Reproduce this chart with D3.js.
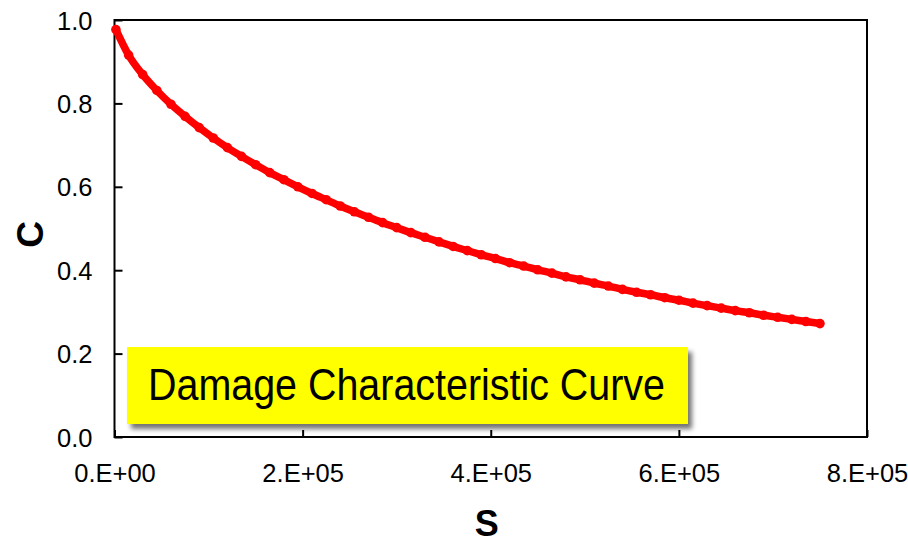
<!DOCTYPE html>
<html>
<head>
<meta charset="utf-8">
<script src="https://cdn.jsdelivr.net/npm/d3@7"></script>
<style>
  html, body { margin: 0; padding: 0; background: #fff; }
  svg { display: block; }
</style>
</head>
<body>
<svg id="chart" width="908" height="543"></svg>
<script>
// Damage parameter S and pseudo-stiffness C along the fitted curve
const sValues = [
  1500, 15000, 30000, 45000, 60000, 75000, 90000, 105000, 120000, 135000,
  150000, 165000, 180000, 195000, 210000, 225000, 240000, 255000, 270000, 285000,
  300000, 315000, 330000, 345000, 360000, 375000, 390000, 405000, 420000, 435000,
  450000, 465000, 480000, 495000, 510000, 525000, 540000, 555000, 570000, 585000,
  600000, 615000, 630000, 645000, 660000, 675000, 690000, 705000, 720000, 735000,
  750000
];
const cValues = [
  0.977, 0.916, 0.869, 0.831, 0.798, 0.769, 0.742, 0.717, 0.694, 0.673,
  0.653, 0.634, 0.617, 0.600, 0.584, 0.569, 0.554, 0.540, 0.527, 0.514,
  0.502, 0.490, 0.479, 0.468, 0.457, 0.447, 0.437, 0.428, 0.418, 0.410,
  0.401, 0.393, 0.384, 0.377, 0.369, 0.362, 0.354, 0.347, 0.341, 0.334,
  0.328, 0.321, 0.315, 0.309, 0.303, 0.298, 0.292, 0.287, 0.282, 0.277,
  0.272
];
const xTicks = [0, 200000, 400000, 600000, 800000];
const yTicks = [0, 0.2, 0.4, 0.6, 0.8, 1.0];
const xTitle = "S";
const yTitle = "C";
const noteText = "Damage Characteristic Curve";

const points = sValues.map((s, i) => ({ s, c: cValues[i] }));

const svg = d3.select("#chart");
const plot = { left: 114.5, right: 867, top: 20, bottom: 437 };

const x = d3.scaleLinear().domain([0, 800000]).range([plot.left, plot.right]);
const y = d3.scaleLinear().domain([0, 1]).range([plot.bottom, plot.top]);

// Excel-style scientific labels: 2.E+05
const sciFormat = v => {
  if (v === 0) return "0.E+00";
  const e = Math.floor(Math.log10(v));
  const m = v / Math.pow(10, e);
  return m + ".E" + (e >= 0 ? "+" : "-") + String(Math.abs(e)).padStart(2, "0");
};

const labelFont = "'Liberation Sans', Arial, sans-serif";

// plot frame
svg.append("rect")
  .attr("x", plot.left).attr("y", plot.top)
  .attr("width", plot.right - plot.left).attr("height", plot.bottom - plot.top)
  .attr("fill", "none").attr("stroke", "#000").attr("stroke-width", 2);

// x axis with inward ticks
const xAxis = svg.append("g")
  .attr("transform", `translate(0,${plot.bottom})`)
  .call(d3.axisBottom(x).tickValues(xTicks).tickFormat(sciFormat)
    .tickSizeInner(-7).tickSizeOuter(0));
xAxis.select(".domain").remove();
xAxis.selectAll(".tick line").attr("stroke", "#000").attr("stroke-width", 2);
xAxis.selectAll(".tick text")
  .attr("y", 45).attr("dy", 0)
  .attr("font-family", labelFont).attr("font-size", 25.5).attr("fill", "#000");

// y axis with inward ticks
const yAxis = svg.append("g")
  .attr("transform", `translate(${plot.left},0)`)
  .call(d3.axisLeft(y).tickValues(yTicks).tickFormat(d3.format(".1f"))
    .tickSizeInner(-8).tickSizeOuter(0));
yAxis.select(".domain").remove();
yAxis.selectAll(".tick line").attr("stroke", "#000").attr("stroke-width", 2);
yAxis.selectAll(".tick text")
  .attr("x", -22).attr("dy", "0.36em")
  .attr("font-family", labelFont).attr("font-size", 25.5).attr("fill", "#000");

// axis titles
svg.append("text")
  .attr("x", (plot.left + plot.right) / 2 - 4).attr("y", 536)
  .attr("text-anchor", "middle")
  .attr("font-family", labelFont).attr("font-weight", "bold").attr("font-size", 36)
  .text(xTitle);
svg.append("text")
  .attr("transform", `translate(43,${(plot.top + plot.bottom) / 2 + 6}) rotate(-90)`)
  .attr("text-anchor", "middle")
  .attr("font-family", labelFont).attr("font-weight", "bold").attr("font-size", 37)
  .text(yTitle);

// damage curve: thick line plus circle markers
const line = d3.line().x(d => x(d.s)).y(d => y(d.c)).curve(d3.curveMonotoneX);
svg.append("path")
  .datum(points)
  .attr("d", line)
  .attr("fill", "none").attr("stroke", "#ff0000")
  .attr("stroke-width", 7.5).attr("stroke-linecap", "round").attr("stroke-linejoin", "round");
svg.append("g").selectAll("circle")
  .data(points)
  .join("circle")
  .attr("cx", d => x(d.s)).attr("cy", d => y(d.c))
  .attr("r", 4.8).attr("fill", "#ff0000");

// yellow note box with soft drop shadow
const defs = svg.append("defs");
const f = defs.append("filter").attr("id", "shadow")
  .attr("x", "-5%").attr("y", "-20%").attr("width", "115%").attr("height", "150%");
f.append("feGaussianBlur").attr("in", "SourceAlpha").attr("stdDeviation", 2.5).attr("result", "b");
f.append("feOffset").attr("in", "b").attr("dx", 4).attr("dy", 5).attr("result", "o");
f.append("feComponentTransfer").attr("in", "o").attr("result", "s")
  .append("feFuncA").attr("type", "linear").attr("slope", 0.55);
const m = f.append("feMerge");
m.append("feMergeNode").attr("in", "s");
m.append("feMergeNode").attr("in", "SourceGraphic");

const note = svg.append("g");
note.append("rect")
  .attr("x", 127).attr("y", 347).attr("width", 561).attr("height", 77)
  .attr("fill", "#ffff00").attr("filter", "url(#shadow)");
note.append("text")
  .attr("x", 148).attr("y", 400)
  .attr("font-family", "'Liberation Sans Narrow', 'Arial Narrow', 'Liberation Sans', Arial, sans-serif")
  .attr("font-size", 44)
  .attr("textLength", 517).attr("lengthAdjust", "spacingAndGlyphs")
  .attr("fill", "#000")
  .text(noteText);
</script>
</body>
</html>
